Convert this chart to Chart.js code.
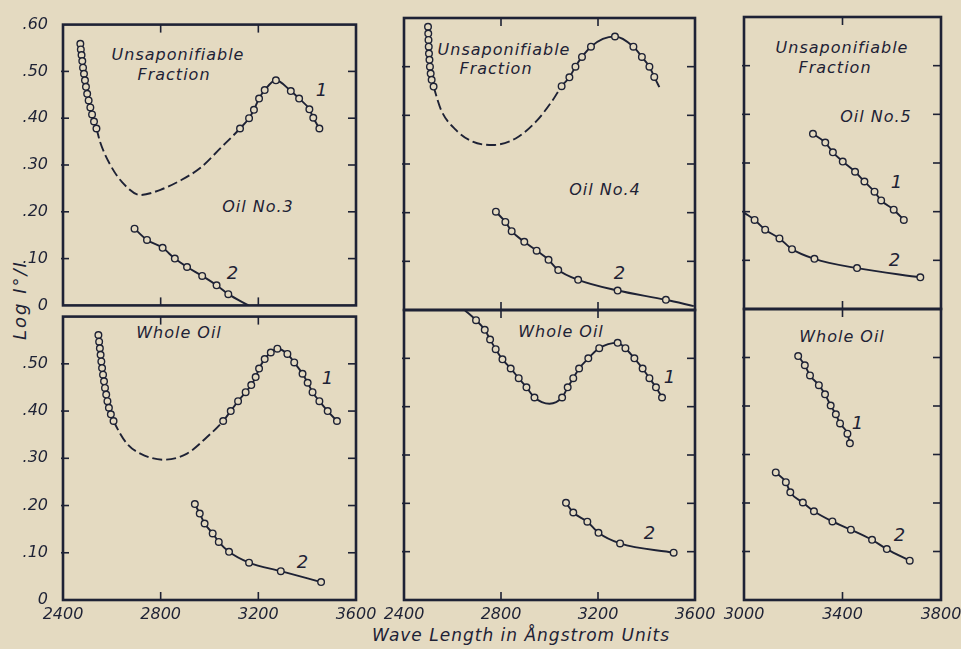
<!DOCTYPE html>
<html lang="en">
<head>
<meta charset="UTF-8">
<title>Log I°/I of oils No. 3, 4 and 5</title>
<script src="https://cdn.jsdelivr.net/npm/chart.js"></script>
<style>
  html, body { margin: 0; padding: 0; }
  body {
    width: 961px; height: 649px; overflow: hidden; position: relative;
    background: #e4dac1; color: #1e2235;
    font-family: 'DejaVu Sans', sans-serif;
  }
  canvas { position: absolute; }
  .note {
    position: absolute; transform: translate(-50%, -50%);
    font-style: italic; font-size: 16px; letter-spacing: 1px;
    line-height: 1; white-space: nowrap;
  }
  .num { font-size: 18px; }
  #xtitle { font-size: 17px; }
  #ytitle { font-size: 18px; letter-spacing: 2px; transform: translate(-50%, -50%) rotate(-90deg); }
</style>
</head>
<body>

<div class="note" style="left:178px;top:55px">Unsaponifiable</div>
<div class="note" style="left:174px;top:75px">Fraction</div>
<div class="note num" style="left:322px;top:90px">1</div>
<div class="note" style="left:258px;top:207px">Oil No.3</div>
<div class="note num" style="left:233px;top:273px">2</div>
<div class="note" style="left:179px;top:333px">Whole Oil</div>
<div class="note num" style="left:328px;top:378px">1</div>
<div class="note num" style="left:303px;top:562px">2</div>

<div class="note" style="left:504px;top:50px">Unsaponifiable</div>
<div class="note" style="left:496px;top:69px">Fraction</div>
<div class="note" style="left:605px;top:190px">Oil No.4</div>
<div class="note num" style="left:620px;top:273px">2</div>
<div class="note" style="left:561px;top:332px">Whole Oil</div>
<div class="note num" style="left:670px;top:377px">1</div>
<div class="note num" style="left:650px;top:533px">2</div>

<div class="note" style="left:842px;top:48px">Unsaponifiable</div>
<div class="note" style="left:835px;top:68px">Fraction</div>
<div class="note" style="left:876px;top:117px">Oil No.5</div>
<div class="note num" style="left:897px;top:182px">1</div>
<div class="note num" style="left:895px;top:260px">2</div>
<div class="note" style="left:842px;top:337px">Whole Oil</div>
<div class="note num" style="left:858px;top:423px">1</div>
<div class="note num" style="left:900px;top:535px">2</div>

<div class="note" id="xtitle" style="left:521px;top:635px">Wave Length in Ångstrom Units</div>
<div class="note" id="ytitle" style="left:20px;top:300px">Log I°/I</div>

<script>
// kinds: o = circle on the curve, - = plain line, : = dashed line

// Oil No.3, unsaponifiable fraction
const oil3UnsapX1 = [2471, 2473, 2476, 2479, 2482, 2486, 2490, 2494, 2499, 2505, 2512, 2519, 2527, 2537,
  2552, 2593, 2641, 2717, 2799, 2881, 2963, 3045,
  3125, 3162, 3182, 3203, 3226, 3272, 3333, 3367, 3409, 3425, 3450];
const oil3UnsapY1 = [.559, .547, .535, .522, .508, .495, .481, .467, .452, .438, .423, .408, .393, .378,
  .349, .301, .264, .236, .247, .267, .294, .336,
  .378, .400, .418, .442, .460, .481, .458, .442, .419, .401, .378];
const oil3UnsapK1 = 'oooooooooooooo::::::::ooooooooooo';
const oil3UnsapX2 = [2693, 2744, 2808, 2858, 2908, 2970, 3029, 3077, 3160];
const oil3UnsapY2 = [.164, .140, .123, .100, .082, .063, .043, .024, 0];
const oil3UnsapK2 = 'oooooooo-';

// Oil No.3, whole oil
const oil3WholeX1 = [2545, 2548, 2551, 2554, 2557, 2560, 2564, 2568, 2572, 2577, 2582, 2588, 2596, 2607,
  2662, 2717, 2812, 2908, 2990,
  3056, 3087, 3117, 3148, 3171, 3189, 3203, 3226, 3251, 3278, 3319, 3347, 3381, 3402, 3422, 3450, 3484, 3522];
const oil3WholeY1 = [.561, .547, .533, .519, .505, .491, .477, .463, .449, .435, .421, .407, .393, .379,
  .331, .310, .297, .310, .345,
  .379, .400, .421, .440, .455, .472, .490, .510, .524, .532, .521, .503, .479, .460, .440, .421, .400, .379];
const oil3WholeK1 = 'oooooooooooooo:::::oooooooooooooooooo';
const oil3WholeX2 = [2940, 2960, 2980, 3013, 3038, 3080, 3162, 3292, 3457];
const oil3WholeY2 = [.203, .183, .162, .141, .123, .102, .079, .061, .038];
const oil3WholeK2 = 'ooooooooo';

// Oil No.4, unsaponifiable fraction
const oil4UnsapX1 = [2499, 2500, 2501, 2502, 2503, 2505, 2507, 2510, 2514, 2522,
  2553, 2614, 2683, 2765, 2862, 2944, 3013,
  3050, 3082, 3107, 3134, 3171, 3220, 3270, 3346, 3381, 3412, 3432, 3453];
const oil4UnsapY1 = [.582, .568, .555, .541, .527, .514, .500, .486, .473, .459,
  .411, .370, .346, .339, .353, .387, .431,
  .460, .478, .500, .520, .541, .557, .562, .541, .520, .500, .479, .458];
const oil4UnsapK1 = 'oooooooooo:::::::ooooo-ooooo-';
const oil4UnsapX2 = [2779, 2818, 2844, 2896, 2947, 2996, 3036, 3118, 3281, 3480, 3595];
const oil4UnsapY2 = [.202, .181, .162, .140, .122, .103, .082, .062, .040, .021, .008];
const oil4UnsapK2 = 'oooooooooo-';

// Oil No.4, whole oil
const oil4WholeX1 = [2650, 2697, 2733, 2755, 2778, 2806, 2840, 2873, 2905, 2938, 3000,
  3052, 3075, 3098, 3122, 3160, 3205, 3281, 3313, 3350, 3384, 3412, 3439, 3464];
const oil4WholeY1 = [.600, .579, .559, .539, .519, .498, .479, .459, .440, .419, .406,
  .419, .440, .459, .479, .500, .521, .532, .521, .500, .479, .459, .440, .419];
const oil4WholeK1 = '-ooooooooo-ooooooooooooo';
const oil4WholeX2 = [3068, 3098, 3156, 3202, 3291, 3512];
const oil4WholeY2 = [.201, .181, .162, .139, .117, .098];
const oil4WholeK2 = 'oooooo';

// Oil No.5, unsaponifiable fraction
const oil5UnsapX1 = [3280, 3330, 3361, 3401, 3451, 3489, 3530, 3557, 3608, 3649];
const oil5UnsapY1 = [.360, .342, .322, .303, .282, .262, .241, .223, .204, .183];
const oil5UnsapK1 = 'oooooooooo';
const oil5UnsapX2 = [3003, 3043, 3086, 3144, 3195, 3286, 3459, 3716];
const oil5UnsapY2 = [.197, .183, .163, .145, .123, .103, .084, .065];
const oil5UnsapK2 = '-ooooooo';

// Oil No.5, whole oil
const oil5WholeX1 = [3220, 3247, 3268, 3304, 3329, 3352, 3373, 3390, 3420, 3430];
const oil5WholeY1 = [.503, .484, .463, .443, .424, .401, .383, .364, .343, .323];
const oil5WholeK1 = 'oooooooooo';
const oil5WholeX2 = [3129, 3170, 3188, 3239, 3284, 3359, 3434, 3520, 3580, 3673];
const oil5WholeY2 = [.263, .243, .222, .201, .183, .162, .145, .124, .105, .081];
const oil5WholeK2 = 'oooooooooo';

// tick values
const xTicksWide = [2400, 2800, 3200, 3600];
const xTicksNarrow = [3000, 3400, 3800];
const yTicks = [0, 0.1, 0.2, 0.3, 0.4, 0.5, 0.6];

const ink = '#1e2235';
const paper = '#e4dac1';
const tickFont = { family: "'DejaVu Sans', sans-serif", style: 'italic', size: 16 };

// panel boxes in page pixels: left, top, right, bottom
const panels = [
  { box: [63, 18, 356, 310], xTicks: xTicksWide, showY: true, showX: false, top: true,
    curves: [[oil3UnsapX1, oil3UnsapY1, oil3UnsapK1], [oil3UnsapX2, oil3UnsapY2, oil3UnsapK2]] },
  { box: [63, 310, 356, 600], xTicks: xTicksWide, showY: true, showX: true, top: false,
    curves: [[oil3WholeX1, oil3WholeY1, oil3WholeK1], [oil3WholeX2, oil3WholeY2, oil3WholeK2]] },
  { box: [404, 18, 695, 310], xTicks: xTicksWide, showY: false, showX: false, top: true,
    curves: [[oil4UnsapX1, oil4UnsapY1, oil4UnsapK1], [oil4UnsapX2, oil4UnsapY2, oil4UnsapK2]] },
  { box: [404, 310, 695, 600], xTicks: xTicksWide, showY: false, showX: true, top: false,
    curves: [[oil4WholeX1, oil4WholeY1, oil4WholeK1], [oil4WholeX2, oil4WholeY2, oil4WholeK2]] },
  { box: [744, 17, 941, 309], xTicks: xTicksNarrow, showY: false, showX: false, top: true,
    curves: [[oil5UnsapX1, oil5UnsapY1, oil5UnsapK1], [oil5UnsapX2, oil5UnsapY2, oil5UnsapK2]] },
  { box: [744, 309, 941, 600], xTicks: xTicksNarrow, showY: false, showX: true, top: false,
    curves: [[oil5WholeX1, oil5WholeY1, oil5WholeK1], [oil5WholeX2, oil5WholeY2, oil5WholeK2]] }
];

// frame and inward tick marks, like the drafted original
function drawFrame(chart, xs) {
  const ctx = chart.ctx;
  const a = chart.chartArea;
  const xScale = chart.scales.x;
  const yScale = chart.scales.y;
  ctx.save();
  ctx.fillStyle = ink;
  for (let i = 1; i < yTicks.length - 1; i++) {
    const py = yScale.getPixelForValue(yTicks[i]);
    ctx.fillRect(a.left - 2, py - 0.8, 8, 1.6);
    ctx.fillRect(a.right - 8, py - 0.8, 8, 1.6);
  }
  for (let i = 1; i < xs.length - 1; i++) {
    const px = xScale.getPixelForValue(xs[i]);
    ctx.fillRect(px - 0.8, a.top, 1.6, 8);
    ctx.fillRect(px - 0.8, a.bottom - 8, 1.6, 8);
  }
  ctx.strokeStyle = ink;
  ctx.lineWidth = 2.6;
  ctx.strokeRect(a.left, a.top, a.right - a.left, a.bottom - a.top);
  ctx.restore();
}

function curveDataset(xs, ys, kinds) {
  return {
    data: xs.map((v, i) => ({ x: v, y: ys[i] })),
    borderColor: ink,
    borderWidth: 1.9,
    cubicInterpolationMode: 'monotone',
    pointRadius: xs.map((v, i) => kinds[i] === 'o' ? 3.3 : 0),
    pointBorderWidth: 1.4,
    pointBorderColor: ink,
    pointBackgroundColor: paper,
    segment: {
      borderDash: c => (kinds[c.p0DataIndex] === ':' || kinds[c.p1DataIndex] === ':') ? [10, 4] : undefined
    }
  };
}

function yLabel(v, top) {
  if (!top && v >= 0.6 - 1e-9) return '';
  const n = Math.round(v * 100);
  return n === 0 ? '0' : '.' + String(n).padStart(2, '0');
}

panels.forEach(p => {
  const [l, t, r, b] = p.box;
  const padL = p.showY ? 63 : 26;
  const padR = p.showX ? 26 : 6;
  const padT = 10;
  const padB = p.showX ? 40 : 12;

  const cv = document.createElement('canvas');
  cv.width = r - l + padL + padR;
  cv.height = b - t + padT + padB;
  cv.style.left = (l - padL) + 'px';
  cv.style.top = (t - padT) + 'px';
  document.body.appendChild(cv);

  new Chart(cv, {
    type: 'line',
    data: { datasets: p.curves.map(c => curveDataset(c[0], c[1], c[2])) },
    options: {
      responsive: false,
      animation: false,
      layout: { padding: { left: 0, right: padR, top: padT, bottom: 0 } },
      plugins: { legend: { display: false }, tooltip: { enabled: false } },
      scales: {
        x: {
          type: 'linear', min: p.xTicks[0], max: p.xTicks[p.xTicks.length - 1],
          afterBuildTicks: s => { s.ticks = p.xTicks.map(v => ({ value: v })); },
          afterFit: s => { s.height = padB; },
          grid: { display: false }, border: { display: false },
          ticks: {
            display: p.showX, autoSkip: false, maxRotation: 0,
            padding: -3, color: ink, font: tickFont,
            callback: v => String(v)
          }
        },
        y: {
          min: yTicks[0], max: yTicks[yTicks.length - 1],
          afterBuildTicks: s => { s.ticks = yTicks.map(v => ({ value: v })); },
          afterFit: s => { s.width = padL; },
          grid: { display: false }, border: { display: false },
          ticks: {
            display: p.showY, padding: 7, color: ink, font: tickFont,
            callback: v => yLabel(v, p.top)
          }
        }
      }
    },
    plugins: [{ id: 'frame', afterDraw: chart => drawFrame(chart, p.xTicks) }]
  });
});
</script>
</body>
</html>
